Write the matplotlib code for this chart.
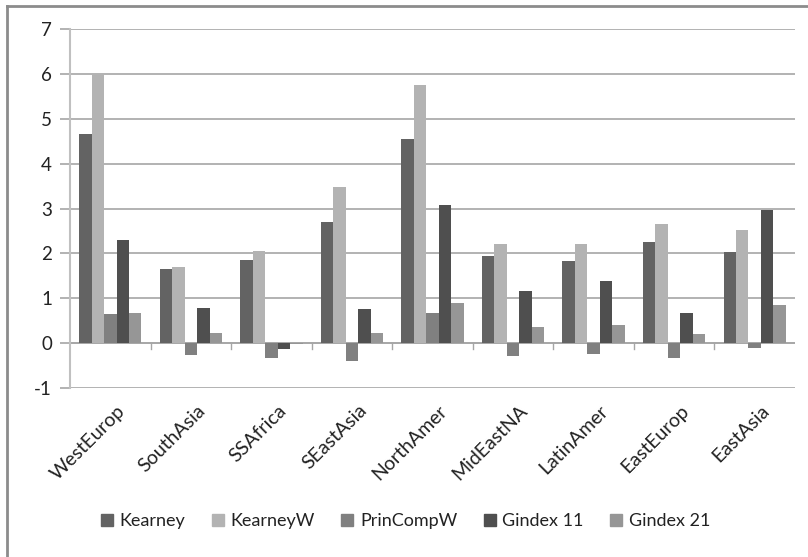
import numpy as np
import matplotlib
matplotlib.use("Agg")
import matplotlib.pyplot as plt
from matplotlib.lines import Line2D
from matplotlib.transforms import ScaledTranslation

plt.rcParams['font.family'] = ['Lato', 'DejaVu Sans']
plt.rcParams['axes.unicode_minus'] = False

regions = ["WestEurop", "SouthAsia", "SSAfrica", "SEastAsia", "NorthAmer",
           "MidEastNA", "LatinAmer", "EastEurop", "EastAsia"]
series_names = ["Kearney", "KearneyW", "PrinCompW", "Gindex 11", "Gindex 21"]

kearney = [4.65, 1.66, 1.85, 2.70, 4.55, 1.95, 1.82, 2.25, 2.03]
kearney_w = [6.00, 1.70, 2.05, 3.47, 5.75, 2.20, 2.20, 2.65, 2.52]
princomp_w = [0.65, -0.27, -0.33, -0.40, 0.68, -0.28, -0.24, -0.33, -0.10]
gindex_11 = [2.30, 0.78, -0.12, 0.75, 3.08, 1.17, 1.38, 0.67, 2.97]
gindex_21 = [0.68, 0.22, -0.02, 0.22, 0.90, 0.35, 0.40, 0.20, 0.85]

colors = ["#636363", "#b3b3b3", "#808080", "#4f4f4f", "#969696"]

fig = plt.figure(figsize=(8.08, 5.57), dpi=100)
W, H = 808, 557
ax = fig.add_axes([70 / W, 1 - 388 / H, 725 / W, 359 / H])

x = np.arange(len(regions))
bw = 0.155
all_series = [kearney, kearney_w, princomp_w, gindex_11, gindex_21]
for i, (vals, c) in enumerate(zip(all_series, colors)):
    ax.bar(x + (i - 2) * bw, vals, width=bw, color=c, label=series_names[i], zorder=3)

ax.set_xlim(-0.5, len(regions) - 0.5)
ax.set_ylim(-1, 7)
ax.set_yticks(range(-1, 8))
ax.grid(axis='y', color='#a6a6a6', linewidth=1.2, zorder=0)
for s in ['top', 'right', 'bottom']:
    ax.spines[s].set_visible(False)
ax.spines['left'].set_color('#c0c0c0')
ax.spines['left'].set_linewidth(1.5)
ax.tick_params(axis='y', length=7, color='#a6a6a6', width=1.2, labelsize=13.5, pad=6,
               labelcolor='#222222')

# zero axis line with category separators
ax.axhline(0, color='#a6a6a6', linewidth=1.2, zorder=2)
for b in np.arange(0.5, len(regions) - 0.5, 1.0):
    ax.plot([b, b], [0, -0.12], color='#a6a6a6', linewidth=1.0, clip_on=False, zorder=2)

ax.set_xticks(x)
ax.set_xticklabels(regions, rotation=45, ha='right', rotation_mode='anchor',
                   fontsize=14, color='#222222')
ax.tick_params(axis='x', length=0, pad=10)
for lbl in ax.get_xticklabels():
    lbl.set_transform(lbl.get_transform() + ScaledTranslation(6 / 100, 0, fig.dpi_scale_trans))

handles = [Line2D([], [], marker='s', linestyle='none', markersize=8,
                  markerfacecolor=c, markeredgecolor=c) for c in colors]
fig.legend(handles, series_names, loc='center', bbox_to_anchor=(0.5, 1 - 521 / H),
           ncol=5, frameon=False, fontsize=13, handletextpad=0.2, columnspacing=1.3,
           handlelength=1.0, labelcolor='#222222')

# outer chart border (left and top visible)
fig.add_artist(Line2D([7 / W, 7 / W], [0, 1 - 6 / H], transform=fig.transFigure,
                      color='#8c8c8c', linewidth=2))
fig.add_artist(Line2D([7 / W, 1], [1 - 6 / H, 1 - 6 / H], transform=fig.transFigure,
                      color='#8c8c8c', linewidth=2))

fig.savefig("out.png", dpi=100)
